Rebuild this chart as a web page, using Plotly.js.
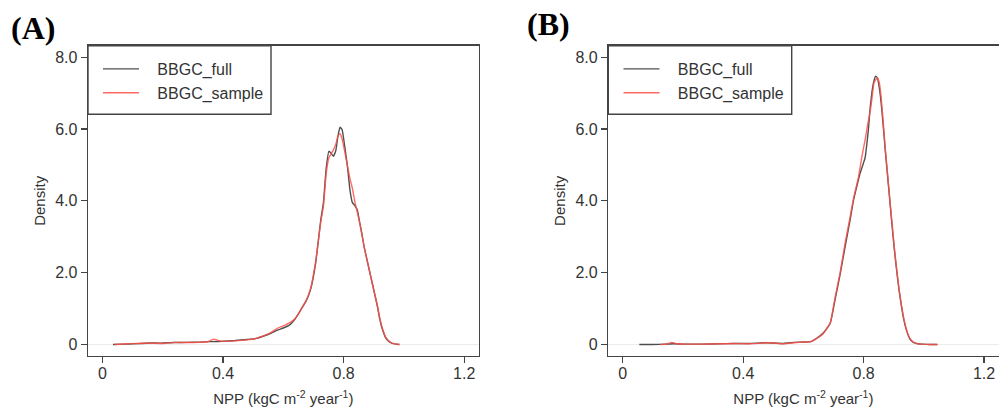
<!DOCTYPE html>
<html>
<head>
<meta charset="utf-8">
<script src="https://cdn.plot.ly/plotly-3.0.1.min.js"></script>
<style>html,body{margin:0;padding:0;background:#fff;}#chart{width:999px;height:412px;}</style>
</head>
<body>
<div id="chart"></div>
<script>
// ---- Data ----
const seriesNames = ['BBGC_full', 'BBGC_sample'];
const xTickVals = [0, 0.4, 0.8, 1.2];
const xTickText = ['0', '0.4', '0.8', '1.2'];
const yTickVals = [0, 2, 4, 6, 8];
const yTickText = ['0', '2.0', '4.0', '6.0', '8.0'];
const panelLabels = ['(A)', '(B)'];

// Panel A
const fullA_x = [0.035,0.07,0.10,0.13,0.16,0.20,0.24,0.28,0.32,0.36,0.40,0.44,0.48,0.51,0.54,0.56,0.58,0.60,0.62,0.637,0.65,0.66,0.675,0.69,0.707,0.724,0.733,0.742,0.751,0.758,0.766,0.774,0.781,0.788,0.795,0.803,0.812,0.821,0.829,0.837,0.845,0.851,0.86,0.868,0.879,0.89,0.901,0.912,0.92,0.929,0.94,0.951,0.962,0.973,0.985];
const fullA_y = [0.0,0.01,0.02,0.03,0.04,0.04,0.055,0.06,0.065,0.08,0.09,0.11,0.14,0.17,0.25,0.32,0.40,0.46,0.54,0.69,0.85,1.0,1.2,1.52,2.26,3.46,3.95,4.90,5.38,5.33,5.24,5.40,5.80,6.05,5.98,5.55,5.0,4.3,3.95,3.87,3.75,3.5,3.1,2.72,2.3,1.89,1.48,1.06,0.7,0.41,0.18,0.08,0.03,0.01,0.0];
const sampleA_x = [0.04,0.07,0.10,0.13,0.16,0.20,0.24,0.28,0.32,0.345,0.358,0.37,0.385,0.40,0.44,0.48,0.51,0.54,0.56,0.58,0.60,0.62,0.637,0.65,0.66,0.675,0.69,0.707,0.724,0.733,0.742,0.751,0.758,0.766,0.774,0.781,0.788,0.795,0.803,0.812,0.821,0.829,0.837,0.845,0.851,0.86,0.868,0.879,0.89,0.901,0.912,0.92,0.929,0.94,0.951,0.962,0.973,0.985];
const sampleA_y = [0.0,0.015,0.025,0.035,0.04,0.03,0.06,0.055,0.06,0.07,0.11,0.15,0.11,0.09,0.1,0.13,0.17,0.26,0.34,0.45,0.52,0.6,0.7,0.85,1.0,1.22,1.55,2.3,3.4,3.85,4.75,5.2,5.3,5.42,5.58,5.8,5.87,5.72,5.4,5.0,4.62,4.35,3.98,3.7,3.48,3.1,2.72,2.3,1.89,1.48,1.08,0.73,0.44,0.2,0.09,0.03,0.01,0.0];

// Panel B
const fullB_x = [0.055,0.10,0.14,0.17,0.20,0.26,0.32,0.37,0.42,0.48,0.53,0.57,0.60,0.625,0.645,0.666,0.689,0.705,0.722,0.738,0.755,0.766,0.777,0.788,0.799,0.805,0.811,0.816,0.822,0.828,0.833,0.84,0.846,0.852,0.858,0.865,0.872,0.879,0.886,0.893,0.902,0.91,0.918,0.926,0.934,0.943,0.954,0.965,0.98,0.995,1.02,1.045];
const fullB_y = [0,0,0.01,0.02,0.01,0.01,0.02,0.03,0.03,0.05,0.03,0.06,0.07,0.08,0.18,0.32,0.59,1.24,1.95,2.7,3.46,4.0,4.39,4.76,5.04,5.2,5.6,6.0,6.61,7.05,7.3,7.47,7.42,7.15,6.75,6.1,5.4,4.75,4.1,3.45,2.65,2.05,1.5,1.05,0.68,0.38,0.15,0.06,0.02,0.01,0,0];
const sampleB_x = [0.125,0.145,0.163,0.18,0.22,0.26,0.32,0.37,0.42,0.49,0.53,0.57,0.60,0.625,0.645,0.666,0.689,0.705,0.722,0.738,0.755,0.766,0.777,0.783,0.794,0.805,0.815,0.822,0.827,0.835,0.845,0.852,0.858,0.865,0.872,0.879,0.886,0.893,0.902,0.91,0.918,0.926,0.934,0.943,0.954,0.965,0.98,0.995,1.02,1.045];
const sampleB_y = [0,0.01,0.06,0.02,0.01,0.01,0.02,0.03,0.02,0.05,0.02,0.05,0.07,0.08,0.17,0.3,0.6,1.3,2.0,2.8,3.55,4.05,4.45,4.67,5.22,5.7,6.2,6.5,6.8,7.3,7.42,7.3,6.9,6.2,5.45,4.8,4.15,3.5,2.7,2.08,1.52,1.08,0.7,0.4,0.17,0.07,0.02,0.01,0,0];

// ---- Styles ----
const W = 999, H = 412;
const FULL_COLOR = 'rgba(60,60,60,0.9)';
const SAMPLE_COLOR = 'rgba(255,80,70,0.85)';
const AX = '#444';
const FONT = 'Liberation Sans, Arial, sans-serif';
const PAD = '\u00a0\u00a0\u00a0';

function line(x, y, name, color, xa, ya, leg) {
  return {x: x, y: y, name: PAD + name, type: 'scatter', mode: 'lines', xaxis: xa, yaxis: ya,
    legend: leg, showlegend: true,
    line: {color: color, width: 1.4, shape: 'spline', smoothing: 0.4}};
}

const traces = [
  line(fullA_x, fullA_y, seriesNames[0], FULL_COLOR, 'x', 'y', 'legend'),
  line(sampleA_x, sampleA_y, seriesNames[1], SAMPLE_COLOR, 'x', 'y', 'legend'),
  line(fullB_x, fullB_y, seriesNames[0], FULL_COLOR, 'x2', 'y2', 'legend2'),
  line(sampleB_x, sampleB_y, seriesNames[1], SAMPLE_COLOR, 'x2', 'y2', 'legend2')
];

const yDom = [(H - 356) / H, (H - 45.7) / H];
function xAxis(domain, anchor) {
  return {domain: domain, anchor: anchor, range: [-0.048, 1.248], tickmode: 'array',
    tickvals: xTickVals, ticktext: xTickText, ticks: 'outside', ticklen: 6, tickwidth: 1.2,
    tickcolor: AX, showline: true, mirror: true, linecolor: AX, linewidth: 1.4,
    showgrid: false, zeroline: false, automargin: false, ticklabelstandoff: -4,
    tickfont: {family: FONT, size: 16, color: '#333'},
    title: {text: 'NPP (kgC m<sup>-2</sup> year<sup>-1</sup>)', font: {family: FONT, size: 15, color: '#333'}, standoff: 13}};
}
function yAxis(anchor) {
  return {domain: yDom, anchor: anchor, range: [-0.32, 8.32], tickmode: 'array',
    tickvals: yTickVals, ticktext: yTickText, ticks: 'outside', ticklen: 6, tickwidth: 1.2,
    tickcolor: AX, showline: true, mirror: true, linecolor: AX, linewidth: 1.4,
    showgrid: false, zeroline: true, zerolinecolor: '#ececec', zerolinewidth: 1, automargin: false,
    tickfont: {family: FONT, size: 16, color: '#333'},
    title: {text: 'Density', font: {family: FONT, size: 15, color: '#333'}, standoff: 6}};
}
function legend(xpx) {
  return {x: xpx / W, y: (H - 52) / H, xanchor: 'left', yanchor: 'top', xref: 'paper', yref: 'paper',
    bgcolor: 'rgba(0,0,0,0)', borderwidth: 0,
    font: {family: FONT, size: 16, color: '#333'}, itemwidth: 36, tracegroupgap: 0};
}
// legend frames (R-style boxed legend)
function legendBox(x0px, x1px) {
  return {type: 'rect', xref: 'paper', yref: 'paper', layer: 'above',
    x0: x0px / W, x1: x1px / W, y0: (H - 114.3) / H, y1: (H - 45.7) / H,
    line: {color: AX, width: 1.4}, fillcolor: '#fff'};
}

const layout = {
  width: W, height: H, paper_bgcolor: '#fff', plot_bgcolor: '#fff',
  margin: {l: 0, r: 0, t: 0, b: 0},
  showlegend: true,
  xaxis: xAxis([88 / W, 478.7 / W], 'y'),
  yaxis: yAxis('x'),
  xaxis2: xAxis([608.3 / W, 998.5 / W], 'y2'),
  yaxis2: yAxis('x2'),
  legend: legend(98),
  legend2: legend(618.5),
  shapes: [legendBox(88, 271), legendBox(608.3, 791.7)],
  annotations: [
    {text: '<b>' + panelLabels[0] + '</b>', xref: 'paper', yref: 'paper', x: 9 / W, y: 1 - 28 / H,
     xanchor: 'left', yanchor: 'middle', showarrow: false,
     font: {family: 'Liberation Serif, Times New Roman, serif', size: 32, color: '#000'}},
    {text: '<b>' + panelLabels[1] + '</b>', xref: 'paper', yref: 'paper', x: 525 / W, y: 1 - 24 / H,
     xanchor: 'left', yanchor: 'middle', showarrow: false,
     font: {family: 'Liberation Serif, Times New Roman, serif', size: 32, color: '#000'}}
  ]
};

Plotly.newPlot('chart', traces, layout, {displayModeBar: false, staticPlot: true});
</script>
</body>
</html>
